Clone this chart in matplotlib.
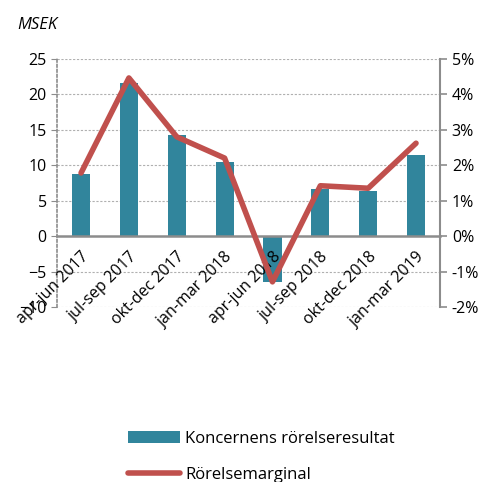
import matplotlib
matplotlib.use("Agg")
import matplotlib.pyplot as plt
from matplotlib.ticker import FuncFormatter
import numpy as np

categories = ["apr-jun 2017", "jul-sep 2017", "okt-dec 2017", "jan-mar 2018",
              "apr-jun 2018", "jul-sep 2018", "okt-dec 2018", "jan-mar 2019"]
rorelseresultat = [8.7, 21.6, 14.2, 10.4, -6.4, 6.7, 6.3, 11.4]
rorelsemarginal = [1.78, 4.46, 2.8, 2.2, -1.29, 1.42, 1.35, 2.62]
left_ticks = [-10, -5, 0, 5, 10, 15, 20, 25]
right_ticks = [-2, -1, 0, 1, 2, 3, 4, 5]

plt.rcParams['font.family'] = ['Open Sans', 'DejaVu Sans']
BAR = "#31859C"
LINE = "#C0504D"
GREY = "#8C8C8C"

fig = plt.figure(figsize=(4.84, 4.82), dpi=100)
ax = fig.add_axes([0.118, 0.363, 0.791, 0.515])
ax2 = ax.twinx()
x = np.arange(len(categories))
bars = ax.bar(x, rorelseresultat, width=0.38, color=BAR, zorder=1,
              label="Koncernens rörelseresultat")
ax.set_xlim(-0.5, len(categories) - 0.5)
ax.set_ylim(-10, 25)
ax.set_yticks(left_ticks)
ax.tick_params(axis='y', labelsize=11.5, length=4, color=GREY, direction='out')
for v in left_ticks:
    if v != 0:
        ax.axhline(v, color="#B0B0B0", lw=0.8, ls=(0, (2, 1.5)), zorder=0)
ax.spines['top'].set_visible(False)
ax.spines['right'].set_visible(False)
ax.spines['left'].set_color(GREY)
ax.spines['left'].set_linestyle((0, (1.5, 1.5)))
ax.spines['left'].set_linewidth(1.2)
ax.spines['bottom'].set_position(('data', 0))
ax.spines['bottom'].set_color(GREY)
ax.spines['bottom'].set_linewidth(1.8)
ax.set_xticks(x)
ax.set_xticklabels(categories, rotation=45, ha='right', va='top',
                   rotation_mode='anchor', fontsize=11.5)
ax.tick_params(axis='x', length=0, pad=9)
ax.xaxis.set_zorder(5)

ax2.set_zorder(ax.get_zorder() + 1)
ax2.patch.set_visible(False)
line, = ax2.plot(x, rorelsemarginal, color=LINE, lw=4, solid_capstyle='round',
                 solid_joinstyle='round', zorder=3, label="Rörelsemarginal")
ax2.set_ylim(-2, 5)
ax2.set_yticks(right_ticks)
ax2.yaxis.set_major_formatter(FuncFormatter(lambda v, p: f"{int(round(v))}%"))
ax2.tick_params(axis='y', labelsize=11.5, length=5, width=1.2, color=GREY)
for s in ['top', 'left', 'bottom']:
    ax2.spines[s].set_visible(False)
ax2.spines['right'].set_color(GREY)
ax2.spines['right'].set_linewidth(1.5)

fig.text(0.035, 0.948, "MSEK", fontsize=12, style='italic', ha='left', va='center')

fig.legend(handles=[bars, line], loc='center', bbox_to_anchor=(0.54, 0.052),
           ncol=1, frameon=False, fontsize=12, handlelength=3.1,
           labelspacing=1.2, handletextpad=0.3)

fig.savefig("out.png", dpi=100)
